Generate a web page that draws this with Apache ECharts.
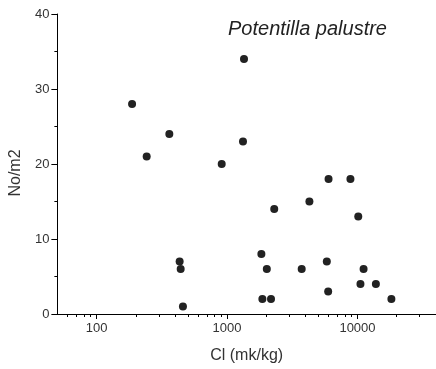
<!DOCTYPE html>
<html>
<head>
<meta charset="utf-8">
<script src="https://cdn.jsdelivr.net/npm/echarts@6/dist/echarts.min.js"></script>
<style>html,body{margin:0;padding:0;background:#fff}#c{width:436px;height:369px}</style>
</head>
<body>
<div id="c"></div>
<script>
// Cl concentration (mk/kg) and density (No/m2) for Potentilla palustre
var clValues = [187, 242, 361, 910, 1325, 1349, 433, 441, 459, 1833, 1866, 2018, 2173, 2300, 3735, 4280, 5820, 5960, 6000, 8830, 10140, 10540, 11140, 13840, 18200];
var density  = [28, 21, 24, 20, 23, 34, 7, 6, 1, 8, 2, 6, 2, 14, 6, 15, 7, 3, 18, 18, 13, 4, 6, 4, 2];
var xMajorTicks = [100, 1000, 10000];
var xMinorTicks = [60, 70, 80, 90, 200, 300, 400, 500, 600, 700, 800, 900, 2000, 3000, 4000, 5000, 6000, 7000, 8000, 9000, 20000, 30000];
var yTicks = [0, 10, 20, 30, 40];

var points = clValues.map(function (v, i) { return [v, density[i]]; });
var FONT = 'Liberation Sans, Arial, sans-serif';
var chart = echarts.init(document.getElementById('c'), null, {renderer: 'canvas'});
chart.setOption({
  animation: false,
  backgroundColor: '#fff',
  title: {
    text: 'Potentilla palustre',
    left: 223, top: 14,
    textStyle: {fontFamily: FONT, fontSize: 20, fontStyle: 'italic', fontWeight: 'normal', color: '#222'}
  },
  grid: {left: 51, right: -6, top: 14, bottom: 55, containLabel: false},
  xAxis: [{
    type: 'log', logBase: 10, min: 50, max: 40000,
    name: 'Cl (mk/kg)', nameLocation: 'middle', nameGap: 34,
    nameTextStyle: {fontFamily: FONT, fontSize: 16, color: '#333'},
    axisLine: {show: true, lineStyle: {color: '#000', width: 1}},
    axisTick: {show: true, inside: false, length: 5, customValues: xMajorTicks, lineStyle: {color: '#000'}},
    axisLabel: {show: true, customValues: xMajorTicks, margin: 8, fontFamily: FONT, fontSize: 13, color: '#333',
      formatter: function (v) { return String(Math.round(v)); }},
    splitLine: {show: false}
  }, {
    type: 'log', logBase: 10, min: 50, max: 40000, position: 'bottom',
    axisLine: {show: false},
    axisTick: {show: true, inside: false, length: 3, customValues: xMinorTicks, lineStyle: {color: '#000'}},
    axisLabel: {show: false},
    splitLine: {show: false}
  }],
  yAxis: {
    type: 'value', min: 0, max: 40, interval: 10,
    name: 'No/m2', nameLocation: 'middle', nameGap: 33,
    nameTextStyle: {fontFamily: FONT, fontSize: 16, color: '#333', padding: [0, 18, 0, 0]},
    axisLine: {show: true, lineStyle: {color: '#000', width: 1}},
    axisTick: {show: true, inside: false, length: 6, customValues: yTicks, lineStyle: {color: '#000'}},
    minorTick: {show: true, splitNumber: 2, length: 3, lineStyle: {color: '#000'}},
    axisLabel: {margin: 8, fontFamily: FONT, fontSize: 13, color: '#333'},
    splitLine: {show: false}
  },
  series: [{
    type: 'scatter',
    xAxisIndex: 0,
    data: points,
    symbol: 'circle',
    symbolSize: 8,
    itemStyle: {color: '#222', opacity: 1}
  }]
});
</script>
</body>
</html>
